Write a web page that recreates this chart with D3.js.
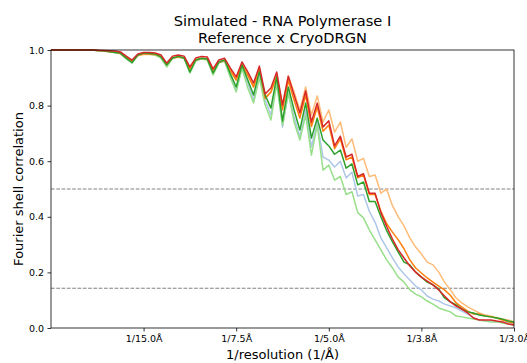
<!DOCTYPE html>
<html>
<head>
<meta charset="utf-8">
<script src="https://cdn.jsdelivr.net/npm/d3@7/dist/d3.min.js"></script>
<style>
  body { margin: 0; background: #fff; }
  svg { font-family: "DejaVu Sans", sans-serif; display: block; }
</style>
</head>
<body>
<div class="fsc-plot"></div>
<script>
// shells 0..80, box 160 px at 1.5 A/px -> nyquist 1/3.0 A
var box = 160, apix = 1.5;

var tickRes = [15, 7.5, 5, 3.75, 3];
var tickLabels = ["1/15.0Å", "1/7.5Å", "1/5.0Å", "1/3.8Å", "1/3.0Å"];
var yTicks = [0, 0.2, 0.4, 0.6, 0.8, 1.0];
var thresholds = [0.5, 0.143];

var fscLightBlue = [1,1,1,1,1,1,1,1,0.998,0.997,0.995,0.991,0.988,0.970,0.953,0.981,0.988,0.986,0.984,0.973,0.944,0.970,0.976,0.970,0.919,0.962,0.968,0.966,0.914,0.955,0.960,0.906,0.856,0.935,0.881,0.820,0.910,0.820,0.766,0.892,0.723,0.845,0.759,0.687,0.784,0.651,0.741,0.615,0.604,0.579,0.600,0.540,0.560,0.475,0.480,0.420,0.380,0.324,0.288,0.252,0.219,0.194,0.173,0.151,0.137,0.115,0.104,0.097,0.086,0.079,0.072,0.061,0.050,0.036,0.029,0.025,0.025,0.022,0.022,0.018,0.014];
var fscLightOrange = [1,1,1,1,1,1,1,1,0.998,0.996,0.994,0.992,0.986,0.971,0.958,0.979,0.984,0.984,0.982,0.975,0.946,0.970,0.974,0.970,0.930,0.962,0.968,0.966,0.922,0.955,0.960,0.925,0.890,0.946,0.908,0.865,0.930,0.830,0.850,0.910,0.802,0.906,0.849,0.784,0.867,0.766,0.835,0.741,0.784,0.705,0.741,0.650,0.680,0.600,0.610,0.545,0.550,0.485,0.500,0.440,0.400,0.367,0.324,0.291,0.266,0.237,0.227,0.201,0.165,0.137,0.108,0.090,0.076,0.065,0.054,0.047,0.043,0.036,0.032,0.029,0.022];
var fscLightGreen = [1,1,1,1,1,1,1,1,0.998,0.996,0.994,0.991,0.987,0.968,0.953,0.980,0.987,0.986,0.982,0.971,0.939,0.970,0.975,0.970,0.917,0.960,0.968,0.964,0.910,0.953,0.960,0.899,0.849,0.935,0.863,0.809,0.899,0.802,0.748,0.878,0.730,0.845,0.741,0.676,0.766,0.622,0.730,0.568,0.586,0.532,0.545,0.480,0.490,0.415,0.396,0.353,0.317,0.281,0.245,0.216,0.183,0.165,0.137,0.122,0.112,0.097,0.086,0.072,0.065,0.058,0.043,0.040,0.036,0.032,0.029,0.025,0.022,0.022,0.018,0.014,0.011];
var fscOrange = [1,1,1,1,1,1,1,1,0.998,0.997,0.995,0.993,0.988,0.973,0.960,0.981,0.986,0.986,0.984,0.977,0.948,0.972,0.976,0.972,0.932,0.964,0.970,0.968,0.925,0.957,0.962,0.927,0.893,0.948,0.910,0.868,0.930,0.826,0.848,0.906,0.785,0.890,0.820,0.755,0.838,0.725,0.795,0.708,0.730,0.645,0.680,0.605,0.615,0.540,0.550,0.480,0.480,0.420,0.375,0.345,0.317,0.285,0.245,0.216,0.198,0.180,0.165,0.151,0.137,0.118,0.090,0.075,0.061,0.050,0.050,0.043,0.040,0.036,0.029,0.022,0.018];
var fscGreen = [1,1,1,1,1,1,1,1,0.998,0.997,0.995,0.991,0.989,0.971,0.955,0.982,0.989,0.987,0.986,0.975,0.946,0.971,0.977,0.971,0.921,0.964,0.970,0.968,0.917,0.957,0.964,0.914,0.867,0.946,0.892,0.838,0.922,0.838,0.791,0.903,0.745,0.867,0.784,0.712,0.809,0.683,0.755,0.676,0.655,0.625,0.640,0.575,0.590,0.515,0.525,0.455,0.455,0.400,0.350,0.310,0.273,0.237,0.227,0.201,0.183,0.165,0.155,0.140,0.108,0.094,0.083,0.068,0.058,0.054,0.047,0.043,0.040,0.036,0.032,0.025,0.022];
var fscRed = [1,1,1,1,1,1,1,1,0.999,0.998,0.997,0.996,0.993,0.978,0.964,0.986,0.991,0.991,0.989,0.982,0.953,0.978,0.982,0.978,0.939,0.971,0.977,0.975,0.932,0.964,0.970,0.935,0.903,0.957,0.921,0.881,0.942,0.842,0.863,0.921,0.802,0.906,0.838,0.773,0.853,0.741,0.809,0.723,0.745,0.655,0.690,0.615,0.625,0.545,0.555,0.485,0.485,0.415,0.365,0.320,0.281,0.252,0.223,0.201,0.183,0.169,0.155,0.137,0.115,0.094,0.079,0.068,0.054,0.036,0.029,0.029,0.029,0.025,0.022,0.014,0.011];

var series = [
    {values: fscLightBlue, color: "#aec7e8"},
    {values: fscLightOrange, color: "#ffbb78"},
    {values: fscLightGreen, color: "#98df8a"},
    {values: fscOrange, color: "#ff7f0e"},
    {values: fscGreen, color: "#2ca02c"},
    {values: fscRed, color: "#d62728"}
];

var W = 527, H = 363;
var margin = {top: 50, right: 13, bottom: 35, left: 51},
    width = W - margin.left - margin.right,
    height = H - margin.top - margin.bottom;

var svg = d3.select(".fsc-plot").append("svg")
    .attr("width", W)
    .attr("height", H)
  .append("g")
    .attr("transform", "translate(" + margin.left + "," + margin.top + ")");

var x = d3.scaleLinear().domain([0, 1 / (2 * apix)]).range([0, width]);
var y = d3.scaleLinear().domain([0, 1]).range([height, 0]);

var freq = function (i) { return i / (box * apix); };

// threshold lines
svg.selectAll(".thresh")
    .data(thresholds)
    .enter().append("line")
    .attr("class", "thresh")
    .attr("x1", 0).attr("x2", width)
    .attr("y1", function (d) { return y(d); })
    .attr("y2", function (d) { return y(d); })
    .attr("stroke", "#808080")
    .attr("stroke-width", 1)
    .attr("stroke-dasharray", "3.7,1.6");

var line = d3.line()
    .x(function (d, i) { return x(freq(i)); })
    .y(function (d) { return y(d); });

svg.selectAll(".fsc")
    .data(series)
    .enter().append("path")
    .attr("class", "fsc")
    .attr("fill", "none")
    .attr("stroke", function (d) { return d.color; })
    .attr("stroke-width", 1.5)
    .attr("stroke-linejoin", "round")
    .attr("d", function (d) { return line(d.values); });

var xAxis = d3.axisBottom(x)
    .tickValues(tickRes.map(function (r) { return 1 / r; }))
    .tickFormat(function (d, i) { return tickLabels[i]; })
    .tickSizeInner(3.5).tickSizeOuter(0).tickPadding(3.5);
var yAxis = d3.axisLeft(y)
    .tickValues(yTicks)
    .tickFormat(d3.format(".1f"))
    .tickSizeInner(3.5).tickSizeOuter(0).tickPadding(3.5);

var gx = svg.append("g")
    .attr("transform", "translate(0," + height + ")")
    .call(xAxis);
var gy = svg.append("g").call(yAxis);

[gx, gy].forEach(function (g) {
  g.select(".domain").remove();
  g.selectAll("line").attr("stroke", "#000").attr("stroke-width", 0.8);
  g.selectAll("text").attr("fill", "#000").style("font-size", "9.5px")
      .style("font-family", "DejaVu Sans");
});

// frame
svg.append("rect")
    .attr("width", width).attr("height", height)
    .attr("fill", "none")
    .attr("stroke", "#000")
    .attr("stroke-width", 0.8);

// labels
svg.append("text")
    .attr("x", width / 2).attr("y", height + 31)
    .style("text-anchor", "middle")
    .style("font-size", "13px")
    .text("1/resolution (1/Å)");

svg.append("text")
    .attr("transform", "rotate(-90)")
    .attr("x", -height / 2).attr("y", -28)
    .style("text-anchor", "middle")
    .style("font-size", "13px")
    .text("Fourier shell correlation");

svg.append("text")
    .attr("x", width / 2).attr("y", -24)
    .style("text-anchor", "middle")
    .style("font-size", "14.6px")
    .text("Simulated - RNA Polymerase I");
svg.append("text")
    .attr("x", width / 2).attr("y", -7)
    .style("text-anchor", "middle")
    .style("font-size", "14.6px")
    .text("Reference x CryoDRGN");
</script>
</body>
</html>
